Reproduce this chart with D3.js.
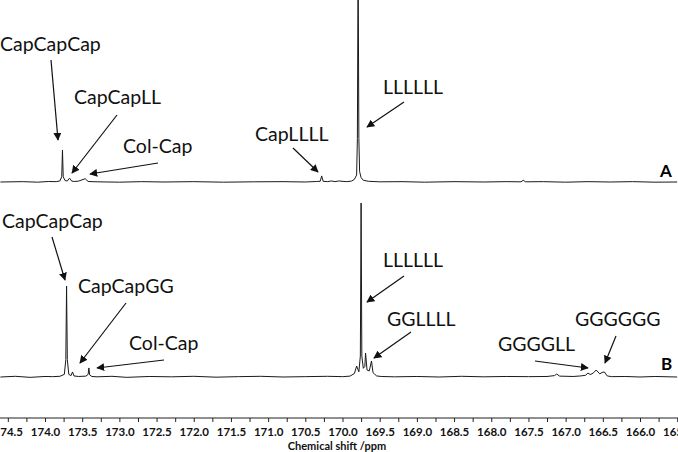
<!DOCTYPE html>
<html lang="en">
<head>
    <script src='https://d3js.org/d3.v7.min.js'></script>
    <style>
        body { margin: 0; background: #fff; }
        svg { display: block; }
    </style>
</head>
<body>
<script>
// chemical shift axis
var tickValues = [174.5, 174.0, 173.5, 173.0, 172.5, 172.0, 171.5, 171.0, 170.5, 170.0, 169.5, 169.0, 168.5, 168.0, 167.5, 167.0, 166.5, 166.0, 165.5];
var minorTicks = [174.25, 173.75, 173.25, 172.75, 172.25, 171.75, 171.25, 170.75, 170.25, 169.75, 169.25, 168.75, 168.25, 167.75, 167.25, 166.75, 166.25, 165.75];

// spectrum A (ppm, relative intensity)
var ppmA = [174.6, 174.3, 174.1, 173.95, 173.85, 173.8, 173.775, 173.765, 173.755, 173.73, 173.7, 173.67, 173.64, 173.6, 173.55, 173.46, 173.42, 173.3, 173.0, 172.7, 172.4, 172.0, 171.6, 171.2, 170.8, 170.5, 170.35, 170.3, 170.28, 170.26, 170.2, 170.15, 170.1, 170.05, 169.95, 169.88, 169.84, 169.81, 169.80, 169.79, 169.78, 169.77, 169.75, 169.72, 169.65, 169.5, 169.2, 168.9, 168.5, 168.1, 167.8, 167.6, 167.57, 167.54, 167.3, 167.0, 166.7, 166.4, 166.1, 165.8, 165.5];
var intA = [0, 0.2, -0.1, 0.3, 0.2, 0.6, 3, 18.4, 3, 0.8, 0.6, 2.2, 0.5, 0.3, 0.5, 1.9, 0.3, 0.1, -0.1, 0.2, 0, 0.2, -0.1, 0.1, 0.2, 0, 0.3, 0.4, 3.5, 0.4, 0.2, 0.6, 0.2, 0.6, 0.2, 0.5, 1.5, 4, 25, 130, 25, 6, 2.5, 1, 0.4, 0.1, 0.2, -0.1, 0.2, 0, 0.2, 0.1, 1, 0.1, 0.2, -0.1, 0.2, 0, 0.2, -0.1, 0];

// spectrum B (ppm, relative intensity)
var ppmB = [174.6, 174.4, 174.2, 174.0, 173.9, 173.8, 173.74, 173.72, 173.71, 173.70, 173.68, 173.65, 173.63, 173.61, 173.55, 173.45, 173.42, 173.41, 173.40, 173.37, 173.3, 173.1, 172.9, 172.6, 172.3, 172.0, 171.7, 171.4, 171.1, 170.8, 170.5, 170.2, 170.0, 169.9, 169.84, 169.81, 169.78, 169.76, 169.75, 169.74, 169.72, 169.70, 169.69, 169.67, 169.64, 169.61, 169.59, 169.57, 169.54, 169.48, 169.3, 169.0, 168.7, 168.4, 168.1, 167.8, 167.5, 167.25, 167.15, 167.12, 167.08, 166.9, 166.8, 166.73, 166.70, 166.67, 166.63, 166.59, 166.54, 166.51, 166.48, 166.44, 166.38, 166.2, 166.0, 165.8, 165.5];
var intB = [0, 0.4, -0.2, 0.3, 0.2, 0.4, 1.5, 10, 52.3, 10, 1.5, 0.8, 2.9, 0.6, 0.3, 0.5, 1.5, 5.2, 1.2, 0.3, 0.1, 0.4, -0.2, 0.3, 0.1, 0.4, -0.1, 0.2, 0.4, 0, 0.2, 0.4, 0.2, 0.5, 2, 6.3, 3, 12, 100, 12, 5, 6, 13.8, 4, 3.5, 9.2, 2.5, 1.7, 0.6, 0.3, 0.1, 0.3, 0, 0.4, 0.1, 0.3, 0.2, 0.3, 0.8, 1.7, 0.5, 0.3, 0.6, 1, 2.3, 1.4, 2.2, 4, 1.8, 2.6, 2.9, 0.6, 0.2, 0.3, 0, 0.3, 0];

// peak assignments
var labelText = ["CapCapCap", "CapCapLL", "Col-Cap", "CapLLLL", "LLLLLL", "CapCapCap", "CapCapGG", "Col-Cap", "LLLLLL", "GGLLLL", "GGGGLL", "GGGGGG"];
var labelPos = [[0, 51], [74, 104], [123, 153], [255, 141], [383, 94], [2, 228], [78, 293], [129, 350], [383, 267], [387, 326], [498, 351], [575, 326]];
var arrowPos = [[51, 60, 58, 140], [117, 115, 72, 173], [158, 163, 90, 174], [293, 148, 318, 172], [404, 102, 367, 127], [52, 237, 65, 280], [126, 303, 80, 363], [164, 360, 97, 368], [404, 276, 367, 302], [411, 332, 374, 358], [535, 361, 588, 368], [616, 336, 605, 363]];

var width = 678, height = 452;

var svg = d3.select("body").append("svg")
    .attr("width", width)
    .attr("height", height);

var defs = svg.append("defs");
defs.append("marker")
    .attr("id", "head")
    .attr("viewBox", "0 0 10 10")
    .attr("refX", 9).attr("refY", 5)
    .attr("markerWidth", 8).attr("markerHeight", 8)
    .attr("markerUnits", "userSpaceOnUse")
    .attr("orient", "auto")
    .append("path")
    .attr("d", "M0,0 L10,5 L0,10 z")
    .attr("fill", "#111");

var x = d3.scaleLinear().domain([174.0, 166.0]).range([45, 640]);
var yA = d3.scaleLinear().domain([0, 100]).range([182, 8]);
var yB = d3.scaleLinear().domain([0, 100]).range([377, 203]);

function draw(ppm, vals, y) {
    var line = d3.line()
        .x(function(d) { return x(d); })
        .y(function(d, i) { return y(vals[i]); });
    svg.append("path")
        .attr("d", line(ppm))
        .attr("fill", "none")
        .attr("stroke", "#1a1a1a")
        .attr("stroke-width", 1)
        .attr("stroke-linejoin", "round");
}
draw(ppmA, intA, yA);
draw(ppmB, intB, yB);

// axis
var axis = d3.axisBottom(x)
    .tickValues(tickValues.concat(minorTicks))
    .tickSize(4)
    .tickSizeOuter(0)
    .tickFormat(function(d) { return tickValues.indexOf(d) >= 0 ? d.toFixed(1) : ""; });

var ax = svg.append("g")
    .attr("transform", "translate(0,418)")
    .call(axis);
ax.select(".domain").attr("d", "M0,0H" + width).attr("stroke", "#222");
ax.selectAll(".tick line").attr("stroke", "#222");
ax.selectAll(".tick text")
    .attr("dy", 0).attr("y", 18)
    .style("font-family", "Lato, 'Open Sans', sans-serif")
    .style("font-weight", "bold")
    .style("font-size", "11.5px")
    .attr("fill", "#111");

svg.append("text")
    .attr("x", 337).attr("y", 450)
    .attr("text-anchor", "middle")
    .style("font-family", "Lato, 'Open Sans', sans-serif")
    .style("font-weight", "bold")
    .style("font-size", "11px")
    .attr("fill", "#111")
    .text("Chemical shift /ppm");

// panel letters
svg.append("text").attr("x", 660).attr("y", 177).text("A")
    .style("font-family", "Lato, sans-serif").style("font-weight", "bold").style("font-size", "17px");
svg.append("text").attr("x", 661).attr("y", 370).text("B")
    .style("font-family", "Lato, sans-serif").style("font-weight", "bold").style("font-size", "17px");

// assignments
svg.selectAll(".lab")
    .data(labelText)
    .enter().append("text")
    .attr("class", "lab")
    .attr("x", function(d, i) { return labelPos[i][0]; })
    .attr("y", function(d, i) { return labelPos[i][1]; })
    .style("font-family", "Lato, 'Open Sans', sans-serif")
    .style("font-size", "19.5px")
    .attr("fill", "#111")
    .text(function(d) { return d; });

svg.selectAll(".arr")
    .data(arrowPos)
    .enter().append("line")
    .attr("class", "arr")
    .attr("x1", function(d) { return d[0]; })
    .attr("y1", function(d) { return d[1]; })
    .attr("x2", function(d) { return d[2]; })
    .attr("y2", function(d) { return d[3]; })
    .attr("stroke", "#111")
    .attr("stroke-width", 1.2)
    .attr("marker-end", "url(#head)");
</script>
</body>
</html>
